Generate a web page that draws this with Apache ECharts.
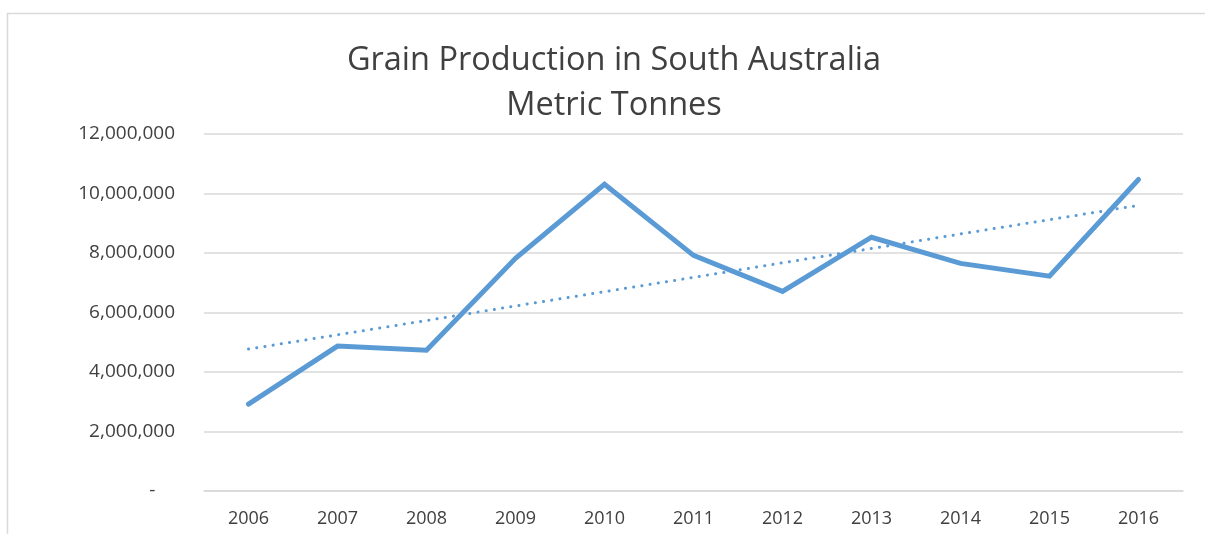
<!DOCTYPE html>
<html>
<head>
<meta charset="utf-8">
<script src="https://cdn.jsdelivr.net/npm/echarts@6/dist/echarts.min.js"></script>
<style>
  html, body { margin: 0; padding: 0; background: #fff; }
  #main { width: 1205px; height: 534px; }
</style>
</head>
<body>
<div id="main"></div>
<script>
// years on the x axis
var years = ['2006', '2007', '2008', '2009', '2010', '2011', '2012', '2013', '2014', '2015', '2016'];
// grain production, tonnes
var production = [2920000, 4870000, 4730000, 7820000, 10310000, 7920000, 6710000, 8530000, 7650000, 7220000, 10470000];
// linear trendline, as drawn in the picture
var trend = [4770000, 5250000, 5730000, 6220000, 6700000, 7180000, 7670000, 8150000, 8640000, 9120000, 9600000];

var chart = echarts.init(document.getElementById('main'));
var font = '"Open Sans", "Liberation Sans", sans-serif';

var option = {
  animation: false,
  backgroundColor: '#fff',
  graphic: [{
    type: 'rect',
    silent: true,
    shape: { x: 7.5, y: 13.5, width: 1400, height: 700 },
    style: { fill: 'none', stroke: '#d9d9d9', lineWidth: 1.5 }
  }],
  title: {
    text: 'Grain Production in South Australia\nMetric Tonnes',
    left: 609,
    textAlign: 'center',
    top: 33,
    textStyle: {
      fontFamily: font,
      fontSize: 32.5,
      fontWeight: 'normal',
      color: '#404040',
      lineHeight: 45
    }
  },
  grid: {
    left: 204,
    right: 22,
    top: 134,
    bottom: 43
  },
  xAxis: {
    type: 'category',
    data: years,
    boundaryGap: true,
    axisLine: { lineStyle: { color: '#d9d9d9', width: 1.5 } },
    axisTick: { show: false },
    axisLabel: {
      color: '#404040',
      fontFamily: font,
      fontSize: 18,
      margin: 19
    }
  },
  yAxis: {
    type: 'value',
    min: 0,
    max: 12000000,
    interval: 2000000,
    axisLine: { show: false },
    axisTick: { show: false },
    splitLine: { lineStyle: { color: '#d9d9d9', width: 1.5 } },
    axisLabel: {
      color: '#404040',
      fontFamily: font,
      fontSize: 19,
      margin: 29,
      formatter: function (v) {
        if (v === 0) return '-    ';
        return v.toString().replace(/\B(?=(\d{3})+(?!\d))/g, ',');
      }
    }
  },
  series: [
    {
      name: 'Production',
      type: 'line',
      data: production,
      symbol: 'none',
      lineStyle: { color: '#5b9bd5', width: 5, cap: 'round', join: 'miter' },
      z: 3
    },
    {
      name: 'Trend',
      type: 'line',
      data: trend,
      symbol: 'none',
      lineStyle: { color: '#5b9bd5', width: 3, type: [0.1, 8.2], cap: 'round' },
      z: 2
    }
  ]
};

chart.setOption(option);
</script>
</body>
</html>
